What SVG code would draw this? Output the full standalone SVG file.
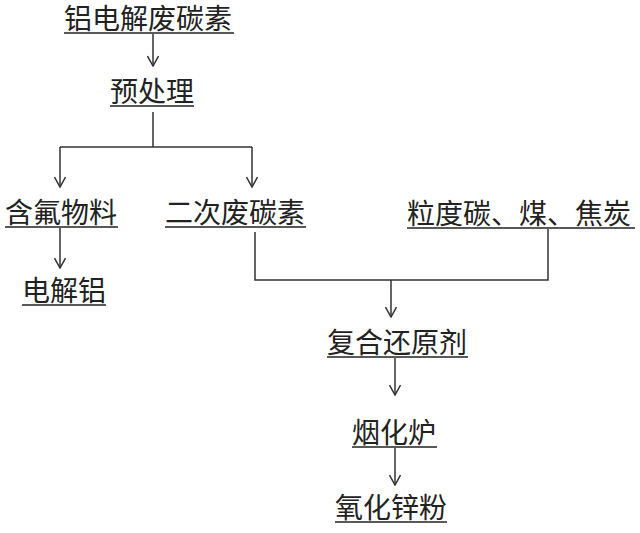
<svg xmlns="http://www.w3.org/2000/svg" width="640" height="533" viewBox="0 0 640 533">
<style>
text{font-family:"Noto Sans CJK SC","Noto Sans",sans-serif;font-size:28px;fill:#222;}
.u{stroke:#222;stroke-width:1.5;}
.c{stroke:#333;stroke-width:1.5;fill:none;}
</style>
<defs>
<marker id="ah" viewBox="0 0 12 12" refX="11" refY="6" markerWidth="12" markerHeight="12" markerUnits="userSpaceOnUse" orient="auto">
<polyline points="1,0.5 11,6 1,11.5" fill="none" stroke="#333" stroke-width="1.5"/>
</marker>
</defs>
<rect width="640" height="533" fill="#fff"/>
<g id="connectors">
<line class="c" x1="153" y1="34" x2="153" y2="66" marker-end="url(#ah)"/>
<polyline class="c" points="153,112 153,147"/>
<polyline class="c" points="60,147 252,147"/>
<line class="c" x1="60" y1="147" x2="60" y2="187" marker-end="url(#ah)"/>
<line class="c" x1="252" y1="147" x2="252" y2="187" marker-end="url(#ah)"/>
<line class="c" x1="60" y1="228" x2="60" y2="268" marker-end="url(#ah)"/>
<polyline class="c" points="255,232 255,280 548,280 548,229"/>
<line class="c" x1="391" y1="280" x2="391" y2="317" marker-end="url(#ah)"/>
<line class="c" x1="395" y1="358" x2="395" y2="395" marker-end="url(#ah)"/>
<line class="c" x1="395" y1="448" x2="395" y2="485" marker-end="url(#ah)"/>
</g>
<g id="n1"><text x="64" y="29">铝电解废碳素</text><line class="u" x1="64" y1="33" x2="234" y2="33"/></g>
<g id="n2"><text x="110" y="102">预处理</text><line class="u" x1="110" y1="106" x2="194" y2="106"/></g>
<g id="n3"><text x="5" y="223">含氟物料</text><line class="u" x1="5" y1="227" x2="118" y2="227"/></g>
<g id="n4"><text x="165" y="223">二次废碳素</text><line class="u" x1="165" y1="227" x2="306" y2="227"/></g>
<g id="n5"><text x="407" y="224">粒度碳、煤、焦炭</text><line class="u" x1="407" y1="228" x2="635" y2="228"/></g>
<g id="n6"><text x="22" y="301">电解铝</text><line class="u" x1="22" y1="305" x2="106" y2="305"/></g>
<g id="n7"><text x="327" y="353">复合还原剂</text><line class="u" x1="327" y1="357" x2="468" y2="357"/></g>
<g id="n8"><text x="352" y="443">烟化炉</text><line class="u" x1="352" y1="447" x2="437" y2="447"/></g>
<g id="n9"><text x="335" y="518">氧化锌粉</text><line class="u" x1="335" y1="522" x2="447" y2="522"/></g>
</svg>
